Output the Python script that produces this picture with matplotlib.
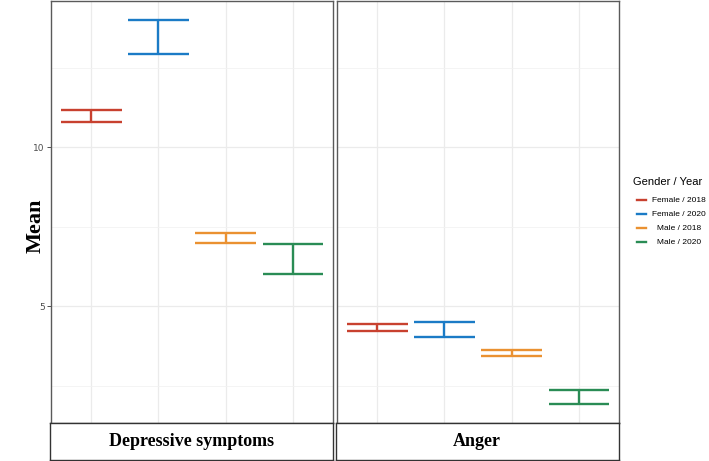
import numpy as np
import matplotlib.pyplot as plt
from matplotlib.lines import Line2D

# =====================
# Data
# =====================

panels = ["Depressive symptoms", "Anger"]
groups = ["Female / 2018", "Female / 2020", "Male / 2018", "Male / 2020"]
colors = ["#C8412F", "#1B7BC6", "#EA9131", "#2A8C55"]

# lower / upper of each interval, per panel
depr_low = [10.81, 12.94, 7.00, 6.00]
depr_high = [11.16, 14.00, 7.31, 6.97]
anger_low = [4.22, 4.04, 3.45, 1.93]
anger_high = [4.44, 4.49, 3.63, 2.37]

lows = [depr_low, anger_low]
highs = [depr_high, anger_high]

# =====================
# Plot
# =====================

W, H = 709, 461
fig = plt.figure(figsize=(W / 100, H / 100), dpi=100)

all_vals = depr_low + depr_high + anger_low + anger_high
vmin, vmax = min(all_vals), max(all_vals)
pad = 0.05 * (vmax - vmin)
ylim = (vmin - pad, vmax + pad)

panel_x = [51, 337]
panel_w = 282
panel_top = 1
panel_bot = 423
strip_bot = 460

serif = ["Liberation Serif", "DejaVu Serif"]
sans = ["Liberation Sans", "DejaVu Sans"]

for i, name in enumerate(panels):
    ax = fig.add_axes([
        panel_x[i] / W,
        (H - panel_bot) / H,
        panel_w / W,
        (panel_bot - panel_top) / H,
    ])
    x = np.arange(1, len(groups) + 1)

    ax.set_xlim(0.4, len(groups) + 0.6)
    ax.set_ylim(*ylim)

    # grid
    ax.set_yticks([5, 10])
    ax.set_yticks([2.5, 7.5, 12.5], minor=True)
    ax.set_xticks(x)
    ax.grid(True, which="major", color="#ebebeb", linewidth=0.9)
    ax.grid(True, which="minor", axis="y", color="#f2f2f2", linewidth=0.6)
    ax.set_axisbelow(True)

    for j in range(len(groups)):
        lo = lows[i][j]
        hi = highs[i][j]
        ax.hlines([lo, hi], x[j] - 0.45, x[j] + 0.45,
                  color=colors[j], linewidth=1.7)
        ax.vlines(x[j], lo, hi, color=colors[j], linewidth=1.7)

    ax.tick_params(axis="x", length=0, labelbottom=False)
    ax.tick_params(axis="y", which="minor", length=0)
    if i == 0:
        ax.tick_params(axis="y", length=3, width=0.6, color="#333333",
                       labelsize=6.5, labelcolor="#4d4d4d", pad=1.5)
    else:
        ax.tick_params(axis="y", length=0, labelleft=False)

    for s in ax.spines.values():
        s.set_color("#5a5a5a")
        s.set_linewidth(1.0)

    # strip at bottom
    sax = fig.add_axes([
        (panel_x[i] - 1.5) / W,
        (H - strip_bot) / H,
        (panel_w + 1.5) / W,
        (strip_bot - panel_bot) / H,
    ])
    sax.set_xticks([])
    sax.set_yticks([])
    for s in sax.spines.values():
        s.set_color("#333333")
        s.set_linewidth(1.0)
    sax.text(0.5, 0.5, name, ha="center", va="center",
             fontsize=13, fontweight="bold", family=serif,
             transform=sax.transAxes)

# y label
fig.text(36 / W, 1 - 226 / H, "Mean", rotation=90, ha="center",
         va="center", fontsize=16, fontweight="bold", family=serif)

# legend drawn by hand
fig.text(668 / W, 1 - 182 / H, "Gender / Year", ha="center",
         va="center", fontsize=8.0, family=sans)
ys = [200, 214, 228, 242]
for j, g in enumerate(groups):
    fig.add_artist(Line2D([637 / W, 646 / W], [1 - ys[j] / H] * 2,
                          color=colors[j], linewidth=1.7))
    fig.text(679 / W, 1 - ys[j] / H, g, ha="center", va="center",
             fontsize=6.0, family=sans)

plt.savefig("out.png", dpi=100)
